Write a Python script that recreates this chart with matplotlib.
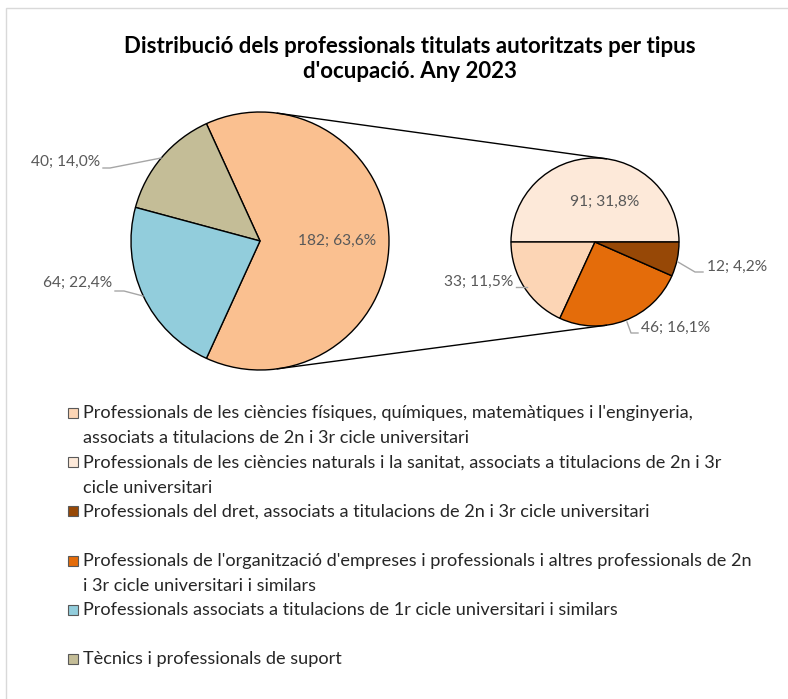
import numpy as np
import matplotlib
matplotlib.use("Agg")
import matplotlib.pyplot as plt
from matplotlib.patches import Rectangle

plt.rcParams['font.family'] = ['Lato', 'DejaVu Sans']

# ---- data ----
title = "Distribució dels professionals titulats autoritzats per tipus\nd'ocupació. Any 2023"
main_labels = ["Altres", "Tècnics i professionals de suport",
               "Professionals associats a titulacions de 1r cicle universitari i similars"]
main_values = [182, 40, 64]
sub_labels = ["Professionals de les ciències naturals i la sanitat",
              "Professionals de les ciències físiques",
              "Professionals de l'organització d'empreses",
              "Professionals del dret"]
sub_values = [91, 33, 46, 12]
legend_labels = [
    "Professionals de les ciències físiques, químiques, matemàtiques i l'enginyeria,\nassociats a titulacions de 2n i 3r cicle universitari",
    "Professionals de les ciències naturals i la sanitat, associats a titulacions de 2n i 3r\ncicle universitari",
    "Professionals del dret, associats a titulacions de 2n i 3r cicle universitari",
    "Professionals de l'organització d'empreses i professionals i altres professionals de 2n\ni 3r cicle universitari i similars",
    "Professionals associats a titulacions de 1r cicle universitari i similars",
    "Tècnics i professionals de suport",
]
main_colors = ["#FAC090", "#C4BD97", "#92CDDC"]
sub_colors = ["#FDE9D9", "#FCD5B5", "#E46C0A", "#974806"]
legend_colors = ["#FCD5B5", "#FDE9D9", "#974806", "#E46C0A", "#92CDDC", "#C4BD97"]

W, H = 788, 699
fig = plt.figure(figsize=(W / 100, H / 100), dpi=100)
ax = fig.add_axes([0, 0, 1, 1])

def Y(py):
    return H - py

total = sum(main_values)
lab_col = "#595959"

# main pie
c1 = (260, Y(241)); R1 = 129
start1 = -360 * main_values[0] / total / 2
ax.pie(main_values, colors=main_colors, center=c1, radius=R1, startangle=start1,
       counterclock=True, frame=True,
       wedgeprops=dict(edgecolor="black", linewidth=1.0))

# secondary pie
c2 = (595, Y(242)); R2 = 84
ax.pie(sub_values, colors=sub_colors, center=c2, radius=R2, startangle=0,
       counterclock=True, frame=True,
       wedgeprops=dict(edgecolor="black", linewidth=1.0))

# connector lines (external tangents)
d = c2[0] - c1[0]
phi = np.arccos((R1 - R2) / d)
for s in (1, -1):
    x1 = c1[0] + R1 * np.cos(phi); y1 = c1[1] + s * R1 * np.sin(phi)
    x2 = c2[0] + R2 * np.cos(phi); y2 = c2[1] + s * R2 * np.sin(phi)
    ax.plot([x1, x2], [y1, y2], color="black", lw=1.0)

def fmt(v):
    return f"{v}; {100 * v / total:.1f}%".replace(".", ",")

fs = 11.2
# labels main
ax.text(337, Y(241), fmt(main_values[0]), ha="center", va="center", fontsize=fs, color=lab_col)
ax.text(100, Y(162), fmt(main_values[1]), ha="right", va="center", fontsize=fs, color=lab_col)
ax.plot([103, 110, 161], [Y(168), Y(168), Y(158)], color="#A6A6A6", lw=1)
ax.text(112, Y(283), fmt(main_values[2]), ha="right", va="center", fontsize=fs, color=lab_col)
ax.plot([115, 124, 143], [Y(291), Y(291), Y(296)], color="#A6A6A6", lw=1)

# labels sub
ax.text(605, Y(202), fmt(sub_values[0]), ha="center", va="center", fontsize=fs, color=lab_col)
ax.text(513, Y(282), fmt(sub_values[1]), ha="right", va="center", fontsize=fs, color=lab_col)
ax.plot([516, 527], [Y(287), Y(287)], color="#A6A6A6", lw=1)
ax.text(641, Y(328), fmt(sub_values[2]), ha="left", va="center", fontsize=fs, color=lab_col)
ax.plot([627, 631, 638], [Y(322), Y(333), Y(333)], color="#A6A6A6", lw=1)
ax.text(707, Y(267), fmt(sub_values[3]), ha="left", va="center", fontsize=fs, color=lab_col)
ax.plot([678, 695, 703], [Y(262), Y(272), Y(272)], color="#A6A6A6", lw=1)

# title
ax.text(410, Y(59), title, ha="center", va="center", fontsize=16, fontweight="bold",
        color="black", linespacing=1.25)

# legend
for i, (lab, col) in enumerate(zip(legend_labels, legend_colors)):
    yc = 413 + i * 49.2
    ax.add_patch(Rectangle((68, Y(yc + 5)), 10, 10, facecolor=col, edgecolor="#595959", lw=0.8))
    ax.text(83, Y(yc - 8), lab, ha="left", va="top", fontsize=13.1, color="#262626",
            linespacing=1.72)

# chart border
ax.add_patch(Rectangle((6, Y(800)), 900, 792, facecolor="none", edgecolor="#D9D9D9", lw=1))

ax.set_xlim(0, W)
ax.set_ylim(0, H)
ax.set_aspect("equal")
ax.axis("off")
fig.savefig("out.png", dpi=100)
